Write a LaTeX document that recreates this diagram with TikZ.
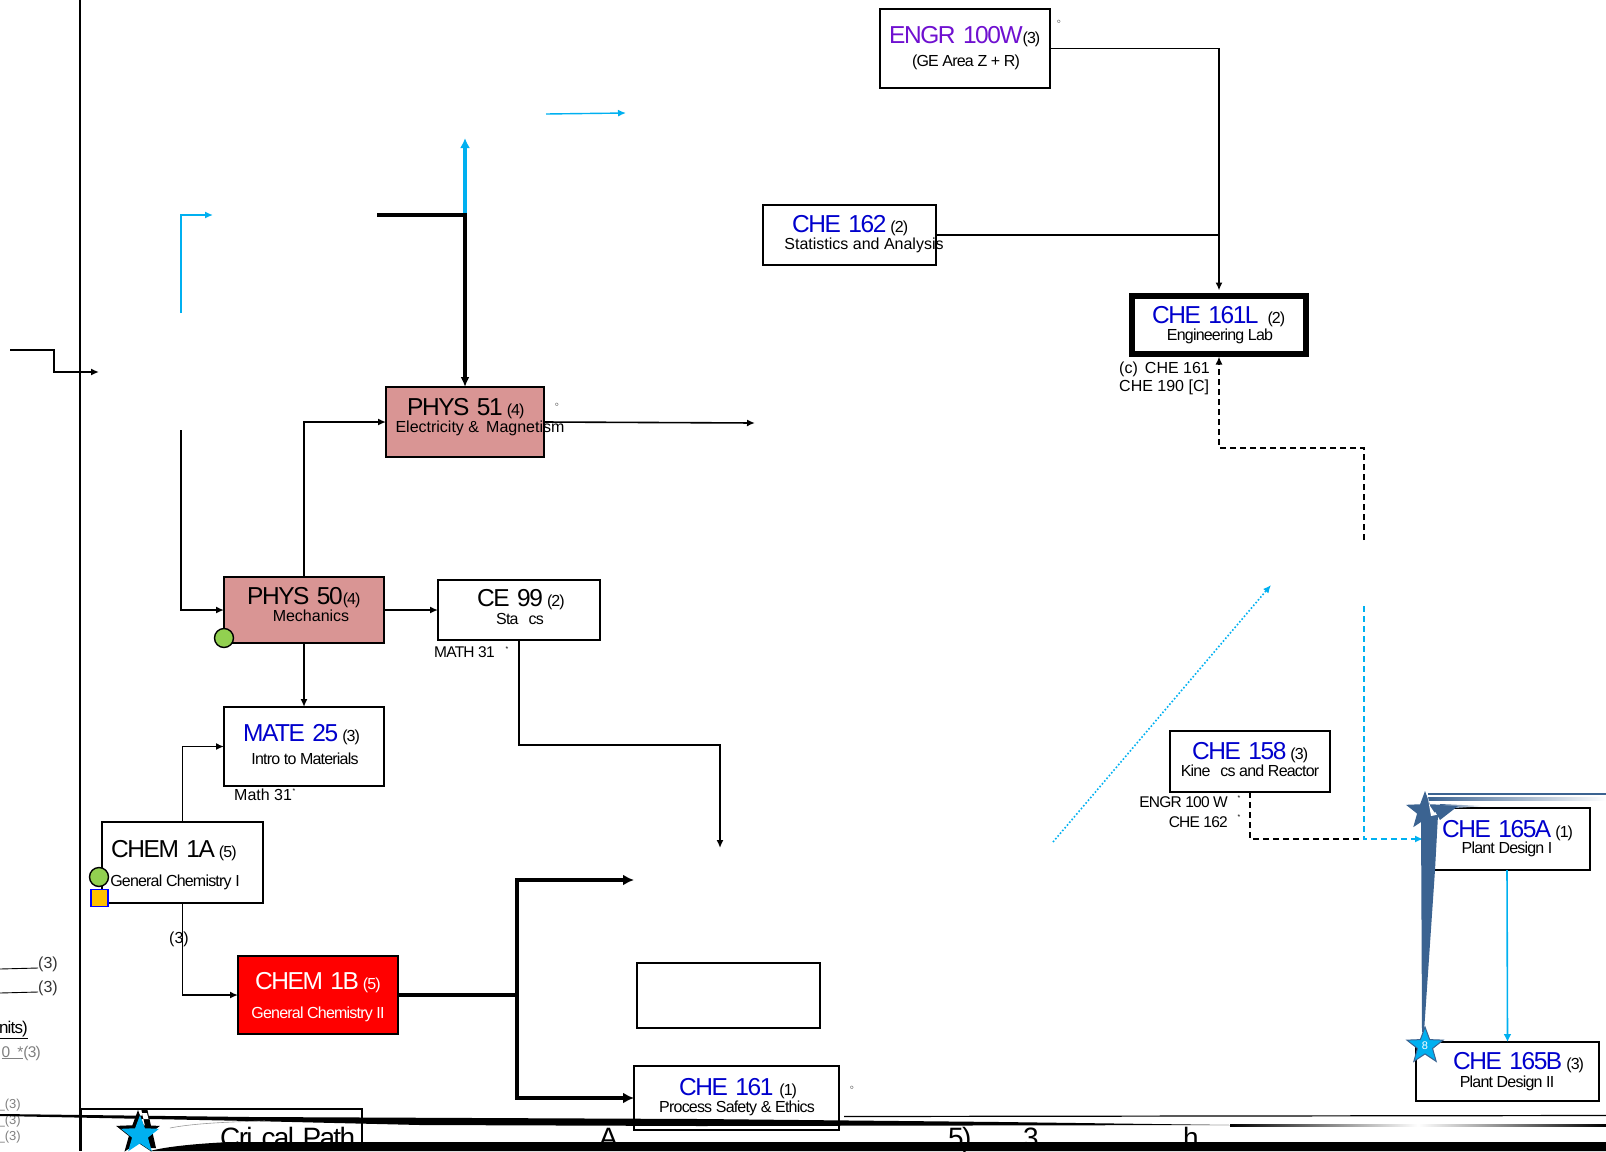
\documentclass[tikz,border=0pt]{standalone}
\usepackage{fontspec}
\usepackage{xcolor}
\setmainfont{Liberation Sans}
\newfontfamily\ttlface[LetterSpace=-6,WordSpace=1.4]{Liberation Sans}
\newfontfamily\subface[LetterSpace=-5]{Liberation Sans}
\usetikzlibrary{arrows.meta,shapes.geometric}

\definecolor{cblue}{HTML}{0000CC}
\definecolor{cpurple}{HTML}{6F10D0}
\definecolor{cpink}{HTML}{D99594}
\definecolor{ccyan}{HTML}{00B0F0}
\definecolor{cband}{HTML}{3B6391}
\definecolor{cgreen}{HTML}{92D050}
\definecolor{corange}{HTML}{FFC000}

\newcommand{\crd}[1]{{\fontsize{16}{16}\selectfont #1}}

\tikzset{
    coursebox/.style={draw, line width=1.8pt, anchor=north west, inner sep=0pt, outer sep=0pt},
    ttl/.style={anchor=base west, inner sep=0pt, font=\ttlface\fontsize{24.5}{24}\selectfont},
    sub/.style={anchor=base, inner sep=0pt, font=\subface\fontsize{16}{16}\selectfont},
    note/.style={anchor=base west, inner sep=0pt, font=\subface\fontsize{15.5}{15}\selectfont},
    tick/.style={inner sep=0pt, font=\fontsize{7}{7}\selectfont},
    big/.style={anchor=base west, inner sep=0pt, font=\ttlface\fontsize{28}{28}\selectfont},
    conn/.style={->, line width=1.6pt},
    fat/.style={line width=4pt},
    cyanline/.style={->, ccyan, line width=1.4pt},
    dashline/.style={line width=1.6pt, dash pattern=on 6pt off 4pt}
}

\begin{document}
\begin{tikzpicture}[x=1pt, y=-1pt, >={Latex[length=8pt,width=7pt]}]
    \useasboundingbox (0,0) rectangle (1606,1151);

    % left margin
    \draw[line width=1.8pt] (80,0) -- (80,1151);
    \node[note, anchor=base east, text=black!80, font=\fontsize{16}{16}\selectfont] (elecA) at (58,968) {(3)};
    \node[note, anchor=base east, text=black!80, font=\fontsize{16}{16}\selectfont] (elecB) at (58,992) {(3)};
    \draw[line width=0.9pt] (0,969) -- (elecA.base west);
    \draw[line width=0.9pt] (0,993) -- (elecB.base west);
    \node[note, anchor=base east, font=\subface\fontsize{17}{17}\selectfont] (units) at (28,1033) {\underline{nits)}};
    \node[note, anchor=base east, text=black!50] (elecC) at (41,1057) {\underline{0\ \ *}(3)};
    \node[note, anchor=base east, text=black!50, font=\fontsize{13}{13}\selectfont] (elecD) at (21,1108) {\_(3)};
    \node[note, anchor=base east, text=black!50, font=\fontsize{13}{13}\selectfont] (elecE) at (21,1124) {\_(3)};
    \node[note, anchor=base east, text=black!50, font=\fontsize{13}{13}\selectfont] (elecF) at (21,1140) {\_(3)};

    % courses
    \node[coursebox, minimum width=170pt, minimum height=79pt] (engr) at (880,9) {};
    \node[coursebox, minimum width=173pt, minimum height=60pt] (che162) at (763,205) {};
    \node[coursebox, line width=6pt, minimum width=174pt, minimum height=58pt] (che161L) at (1132,295.5) {};
    \node[coursebox, fill=cpink, minimum width=158pt, minimum height=70pt] (phys51) at (386,387) {};
    \node[coursebox, fill=cpink, minimum width=160pt, minimum height=66pt] (phys50) at (224,577) {};
    \node[coursebox, minimum width=162pt, minimum height=60pt] (ce99) at (438,580) {};
    \node[coursebox, minimum width=160pt, minimum height=79pt] (mate25) at (224,707) {};
    \node[coursebox, minimum width=161pt, minimum height=81pt] (chem1a) at (102,822) {};
    \node[coursebox, fill=red, draw=black, minimum width=160pt, minimum height=78pt] (chem1b) at (238,956) {};
    \node[coursebox, minimum width=183pt, minimum height=65pt] (blank) at (637,963) {};
    \node[coursebox, minimum width=205pt, minimum height=64pt] (che161) at (634,1066) {};
    \node[coursebox, line width=2.4pt, minimum width=160pt, minimum height=61pt] (che158) at (1170,731) {};
    \node[coursebox, line width=2.2pt, minimum width=166pt, minimum height=62pt] (che165A) at (1424,808) {};
    \node[coursebox, line width=2.2pt, minimum width=183pt, minimum height=59pt] (che165B) at (1416,1042) {};

    % arrows
    \coordinate (stubA) at (10,350);
    \coordinate (stubB) at (99,372);
    \coordinate (cyanA) at (181,313);
    \coordinate (cyanB) at (213,215);
    \coordinate (cyanC) at (546,114);
    \coordinate (cyanD) at (626,113);
    \coordinate (fatA) at (377,215);
    \coordinate (fatB) at (465,215);
    \coordinate (upEnd) at (465,138);
    \coordinate (leftIn) at (181,430);
    \coordinate (mag) at (755,423);
    \coordinate (ceEnd) at (720,848);
    \coordinate (split) at (517,995);
    \coordinate (fatEnd) at (634,880);
    \coordinate (dashA) at (1364,540);
    \coordinate (dashB) at (1219,448);
    \coordinate (cyanE) at (1364,606);
    \coordinate (meet) at (1364,839);
    \coordinate (in165) at (1423,839);
    \coordinate (dotA) at (1053,842);
    \coordinate (dotB) at (1271,585);

    \draw[conn] (stubA) -- (54,350) -- (54,372) -- (stubB);
    \draw[cyanline] (cyanA) |- (cyanB);
    \draw[cyanline] (cyanC) -- (cyanD);
    \draw[->, ccyan, line width=3.6pt, >={Latex[length=10pt,width=10pt]}] (fatB) -- (upEnd);
    \draw[->, line width=3.4pt, >={Latex[length=10pt,width=9pt]}] (fatA) -- (fatB) -- (phys51.north);
    \draw[conn] (leftIn) |- (phys50.west);
    \draw[conn] (phys50.north) |- (phys51.west);
    \draw[conn] (phys51.east) -- (mag);
    \draw[conn] (phys50.east) -- (ce99.west);
    \draw[conn] (phys50.south) -- (mate25.north);
    \draw[conn] (chem1a.north) |- (mate25.west);
    \draw[conn] (chem1a.south) |- (chem1b.west);
    \draw[conn] (ce99.south) |- (720,745) -- (ceEnd);
    \draw[fat] (chem1b.east) -- (split);
    \draw[->, fat, >={Latex[length=11pt,width=11pt]}] (split) |- (fatEnd);
    \draw[->, fat, >={Latex[length=11pt,width=11pt]}] (split) |- (che161.west);
    \draw[conn, shorten >=5pt] (engr.east) -| (che161L.north);
    \draw[line width=1.6pt] (che162.east) -- (che162.east -| che161L.north);
    \draw[->, dashline, shorten >=3pt] (dashA) |- (dashB) -- (che161L.south);
    \draw[dashline] (che158.south) |- (meet);
    \draw[->, ccyan, line width=1.5pt, dash pattern=on 6pt off 4pt] (cyanE) -- (meet) -- (in165);
    \draw[->, ccyan, line width=1.6pt, dotted] (dotA) -- (dotB);
    \draw[->, ccyan, line width=1.6pt, >={Latex[length=8pt,width=8pt]}] (che165A.south) -- (che165B.north);

    % titles
    \node[ttl, text=cpurple] (tengr) at (889,43) {ENGR 100W\crd{\textcolor{black}{(3)}}};
    \node[sub] (sengr) at (966,66) {(GE Area Z + R)};
    \node[ttl, text=cblue] (tche162) at (792,232) {CHE 162\,\crd{\textcolor{black}{(2)}}};
    \node[sub, font=\fontsize{16}{16}\selectfont] (sche162) at (864,249) {Statistics and Analysis};
    \node[ttl, text=cblue] (tche161L) at (1152,323) {CHE 161L\hspace{9pt}\crd{\textcolor{black}{(2)}}};
    \node[sub] (sche161L) at (1220,340) {Engineering Lab};
    \node[ttl] (tphys51) at (407,415) {PHYS 51\,\crd{(4)}};
    \node[sub, font=\fontsize{16}{16}\selectfont] (sphys51) at (480,432) {Electricity \&\, Magnetism};
    \node[ttl] (tphys50) at (247,604) {PHYS 50\crd{(4)}};
    \node[sub, font=\fontsize{16}{16}\selectfont] (sphys50) at (311,621) {Mechanics};
    \node[ttl] (tce99) at (477,606) {CE 99\,\crd{(2)}};
    \node[sub] (sce99) at (520,624) {Sta\hspace{10pt}cs};
    \node[ttl, text=cblue] (tmate25) at (243,741) {MATE 25\,\crd{\textcolor{black}{(3)}}};
    \node[sub] (smate25) at (305,764) {Intro to Materials};
    \node[ttl] (tchem1a) at (111,857) {CHEM 1A\,\crd{(5)}};
    \node[sub] (schem1a) at (175,886) {General Chemistry I};
    \node[ttl, text=white] (tchem1b) at (255,989) {CHEM 1B\,\crd{(5)}};
    \node[sub, text=white] (schem1b) at (318,1018) {General Chemistry II};
    \node[ttl, text=cblue] (tche161) at (679,1095) {CHE 161\hspace{6pt}\crd{\textcolor{black}{(1)}}};
    \node[sub] (sche161) at (737,1112) {Process Safety \& Ethics};
    \node[ttl, text=cblue] (tche158) at (1192,759) {CHE 158\,\crd{\textcolor{black}{(3)}}};
    \node[sub] (sche158) at (1250,776) {Kine\hspace{10pt}cs and Reactor};
    \node[ttl, text=cblue] (tche165A) at (1442,837) {CHE 165A\,\crd{\textcolor{black}{(1)}}};
    \node[sub] (sche165A) at (1507,853) {Plant Design I};
    \node[ttl, text=cblue] (tche165B) at (1453,1069) {CHE 165B\,\crd{\textcolor{black}{(3)}}};
    \node[sub] (sche165B) at (1507,1087) {Plant Design II};

    % notes
    \node[note, font=\fontsize{16}{16}\selectfont] (noteA) at (1119,373) {(c)\, CHE 161};
    \node[note, font=\fontsize{16}{16}\selectfont] (noteB) at (1119,391) {CHE 190 [C]};
    \node[note] (noteC) at (434,657) {MATH 31};
    \node[note, font=\fontsize{16}{16}\selectfont] (noteD) at (234,800) {Math 31};
    \node[note, anchor=base east] (noteE) at (1228,807) {ENGR 100 W};
    \node[note, anchor=base east] (noteF) at (1228,827) {CHE 162};
    \node[note, font=\fontsize{16}{16}\selectfont] (credit) at (169,943) {(3)};
    \node[tick] (tickA) at (1059,22) {$\circ$};
    \node[tick] (tickB) at (557,405) {$\circ$};
    \node[tick] (tickC) at (852,1088) {$\circ$};
    \node[tick] (tickD) at (507,649) {*};
    \node[tick] (tickE) at (294,791) {*};
    \node[tick] (tickF) at (1239,798) {*};
    \node[tick] (tickG) at (1239,817) {*};

    % dots
    \node[circle, draw, line width=1.4pt, fill=cgreen, minimum size=19pt, inner sep=0pt] (dotPhys) at (224,638) {};
    \node[circle, draw, line width=1.4pt, fill=cgreen, minimum size=19pt, inner sep=0pt] (dotChem) at (99,877) {};
    \node[draw=blue, line width=1.6pt, fill=corange, minimum size=17pt, inner sep=0pt] (sqChem) at (99.5,898) {};

    % band and stars on the right
    \fill[cband] (1428,793) rectangle (1606,795);
    \shade[left color=cband, right color=white] (1428,797) rectangle (1606,800);
    \shade[left color=cband, right color=white] (1440,804) -- (1485,806) -- (1440,809) -- cycle;
    \fill[cband] (1421,815) -- (1438,815) -- (1435,870) -- (1424,1032) -- (1422,1032) -- cycle;
    \node[star, star points=5, star point ratio=2.4, fill=cband, minimum size=40pt, inner sep=0pt] (starTop) at (1425,811) {};
    \fill[cband] (1432,806) -- (1458,806) -- (1440,820) -- cycle;
    \fill[white] (1427,793) -- (1430,806) -- (1436,815) -- (1431,816) -- cycle;
    \node[star, star points=5, star point ratio=2.4, fill=ccyan, draw=cband, line width=1pt, minimum size=38pt, inner sep=0pt, text=white, font=\fontsize{11}{11}\selectfont] (starLow) at (1425,1046) {8};

    % bottom legend
    \draw[line width=1.6pt] (81,1151) |- (362,1109) -- (362,1151);
    \node[big] (legend) at (220,1147) {Cri\hspace{9pt}cal Path};
    \node[big] (letterA) at (599,1147) {A};
    \node[big] (letterB) at (948,1147) {5)};
    \node[big] (letterC) at (1023,1147) {3};
    \node[big] (letterD) at (1183,1147) {h};
    \draw[line width=1.2pt] (844,1116.5) -- (1606,1115.5);
    \fill (0,1114) -- (250,1117) -- (700,1119) -- (1000,1122) -- (1230,1125) -- (700,1126) -- (420,1125) -- (250,1121) -- (0,1116) -- cycle;
    \shade[left color=black, right color=black, middle color=white] (1230,1124.5) rectangle (1606,1126.5);
    \fill (150,1151) .. controls (165,1147) and (190,1144) .. (230,1142) -- (1606,1142) -- (1606,1151) -- cycle;
    \draw[black!40, line width=0.6pt] (170,1128) .. controls (190,1124) and (220,1122) .. (265,1121);
    \node[star, star points=5, star point ratio=2.4, fill=black, minimum size=46pt, inner sep=0pt] (starBack) at (138,1133) {};
    \fill (141,1108) -- (147,1108) -- (156,1148) -- (150,1148) -- cycle;
    \fill[white] (142,1113) -- (147,1113) -- (148.5,1119) -- (143.5,1119) -- cycle;
    \node[star, star points=5, star point ratio=2.4, fill=ccyan, minimum size=40pt, inner sep=0pt] (starKey) at (140,1135) {};
\end{tikzpicture}
\end{document}
